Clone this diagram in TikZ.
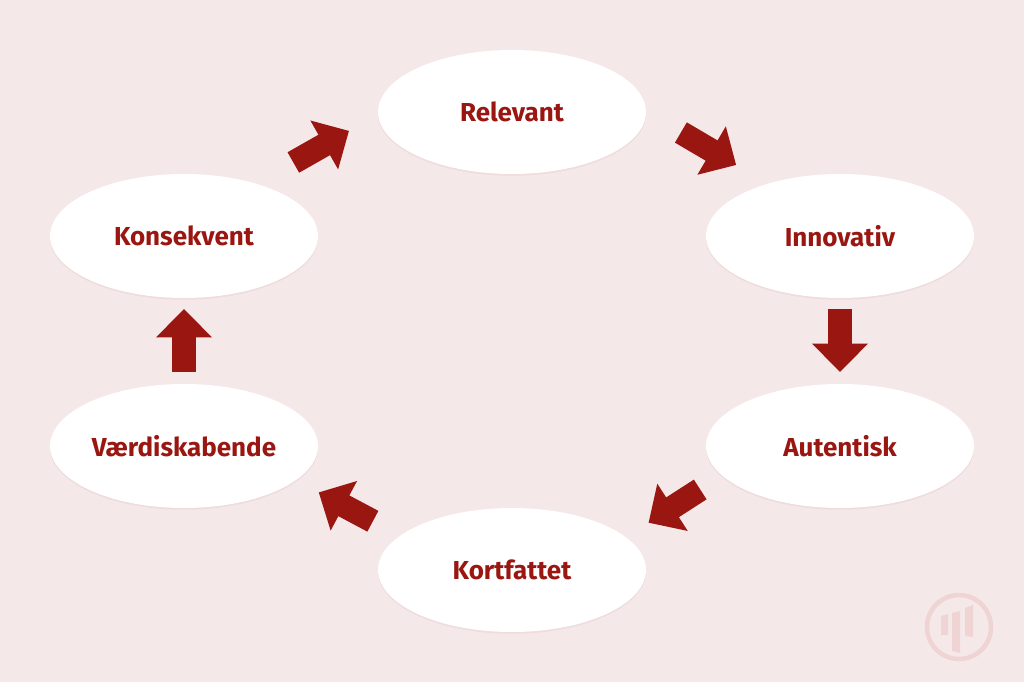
\documentclass[tikz,border=0pt]{standalone}
\usepackage{fontspec}
\setmainfont{Fira Sans}
\usetikzlibrary{arrows.meta,shapes.geometric,shadows}
\definecolor{pagebg}{HTML}{F5E8E9}
\definecolor{darkred}{HTML}{9A1611}
\definecolor{logopink}{HTML}{F0D3D3}
\tikzset{
  bubble/.style={ellipse,fill=white,inner sep=0pt,outer sep=0pt,minimum width=5.36cm,minimum height=2.48cm,
    text=darkred,font=\fontsize{14.8}{18}\selectfont\bfseries,
    drop shadow={shadow xshift=0pt,shadow yshift=-1pt,opacity=0.1,fill=darkred!60}},
  blockarrow/.style={darkred,line width=0.47cm,-{Triangle[length=0.57cm,width=1.09cm]}}
}
\begin{document}
\begin{tikzpicture}[x=0.02cm,y=-0.02cm]
\fill[pagebg] (0,0) rectangle (1024,682);

\node[bubble] (relevant) at (512,112) {Relevant};
\node[bubble] (innovativ) at (840,236) {Innovativ};
\node[bubble] (autentisk) at (840,446) {Autentisk};
\node[bubble] (kortfattet) at (512,570) {Kortfattet};
\node[bubble] (vaerdi) at (184,446) {Værdiskabende};
\node[bubble] (konsekvent) at (184,236) {Konsekvent};

\draw[blockarrow,shorten <=0.81cm,shorten >=0.74cm] (relevant.0) -- (innovativ.144.6);
\draw[blockarrow,shorten <=0.22cm,shorten >=0.24cm] (innovativ.south) -- (autentisk.north);
\draw[blockarrow,shorten <=0.52cm,shorten >=0.54cm] (autentisk.194.8) -- (kortfattet.16.9);
\draw[blockarrow,shorten <=0.62cm,shorten >=0.52cm] (kortfattet.163.9) -- (vaerdi.-17.5);
\draw[blockarrow,shorten <=0.24cm,shorten >=0.22cm] (vaerdi.north) -- (konsekvent.south);
\draw[blockarrow,shorten <=0.86cm,shorten >=0.67cm] (konsekvent.36) -- (relevant.181.5);

\draw[logopink,line width=0.09cm] (959,627) circle (32);
\fill[logopink] (941,616) -- (948,614) -- (948,635) -- (941,635) -- cycle;
\fill[logopink] (952,613) -- (960,611) -- (960,653) -- (952,651) -- cycle;
\fill[logopink] (965,608) -- (973,605) -- (973,637) -- (965,636) -- cycle;
\end{tikzpicture}
\end{document}
